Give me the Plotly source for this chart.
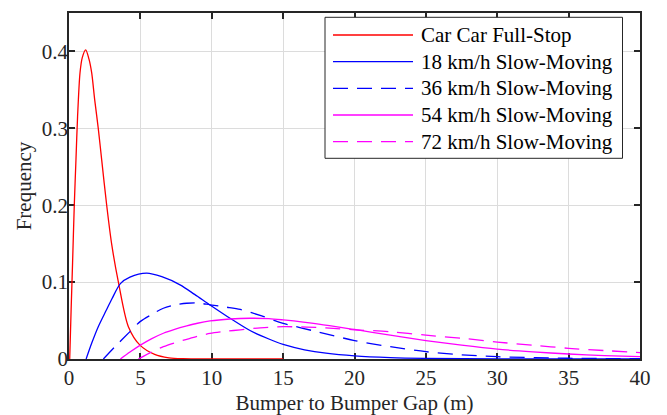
import plotly.graph_objects as go

# ---------------- data ----------------
series_names = ["Car Car Full-Stop", "18 km/h Slow-Moving", "36 km/h Slow-Moving",
                "54 km/h Slow-Moving", "72 km/h Slow-Moving"]

full_stop_x = [0.05, 0.15, 0.25, 0.37, 0.49, 0.6, 0.77, 0.93, 1.17, 1.4, 1.59, 1.8, 2.05,
               2.29, 2.64, 3.0, 3.46, 4.16, 4.97, 6.0, 7.0, 8.0, 10.0, 15.0]
full_stop_y = [0.0, 0.065, 0.125, 0.2, 0.26, 0.315, 0.372, 0.392, 0.402, 0.39, 0.372, 0.337,
               0.3, 0.259, 0.2, 0.148, 0.1, 0.042, 0.018, 0.006, 0.0015, 0.0003, 0.0, 0.0]

kmh18_x = [1.2, 1.6, 2.05, 2.6, 3.0, 3.6, 4.27, 5.44, 6.5, 7.78, 8.8, 9.88, 11.28, 12.68,
           14.0, 15.0, 16.5, 18.0, 20.0, 22.5, 25.0, 30.0, 35.0, 40.0]
kmh18_y = [0.0, 0.021, 0.042, 0.063, 0.078, 0.098, 0.1064, 0.1116, 0.107, 0.0964, 0.084,
           0.0703, 0.053, 0.037, 0.026, 0.019, 0.012, 0.0075, 0.004, 0.0018, 0.0008,
           0.0002, 0.0, 0.0]

kmh36_x = [2.41, 3.22, 4.27, 4.98, 5.8, 6.61, 7.5, 8.25, 9.0, 9.88, 11.0, 12.0, 13.5, 15.0,
           17.5, 20.0, 22.5, 25.0, 27.5, 30.0, 35.0, 40.0]
kmh36_y = [0.0, 0.016, 0.0356, 0.0486, 0.058, 0.066, 0.0705, 0.0725, 0.0728, 0.0705, 0.0675,
           0.0645, 0.056, 0.0464, 0.035, 0.024, 0.016, 0.0095, 0.0055, 0.003, 0.001, 0.0003]

kmh54_x = [3.6, 4.27, 5.0, 5.8, 6.61, 7.4, 8.25, 9.0, 9.88, 11.28, 12.68, 14.0, 15.0, 17.5,
           20.0, 22.5, 25.0, 27.5, 30.0, 32.5, 35.0, 37.5, 40.0]
kmh54_y = [0.0, 0.009, 0.018, 0.0265, 0.0335, 0.0385, 0.043, 0.0465, 0.0495, 0.052, 0.053,
           0.0525, 0.0508, 0.0455, 0.0384, 0.031, 0.024, 0.018, 0.0128, 0.0093, 0.0065,
           0.0045, 0.003]

kmh72_x = [4.86, 5.6, 6.61, 7.4, 8.25, 9.0, 9.88, 11.0, 12.0, 13.4, 15.0, 16.66, 18.0, 20.0,
           22.5, 25.0, 27.5, 30.0, 32.5, 35.0, 37.5, 40.0]
kmh72_y = [0.0, 0.0074, 0.016, 0.021, 0.0256, 0.0295, 0.0333, 0.036, 0.038, 0.0405, 0.042,
           0.0415, 0.0405, 0.038, 0.0355, 0.031, 0.027, 0.022, 0.018, 0.0139, 0.011, 0.0082]

x_ticks = [0, 5, 10, 15, 20, 25, 30, 35, 40]
y_ticks = [0, 0.1, 0.2, 0.3, 0.4]
y_tick_labels = ["0", "0.1", "0.2", "0.3", "0.4"]
x_title = "Bumper to Bumper Gap (m)"
y_title = "Frequency"

# ---------------- styling ----------------
FONT = "Liberation Serif, Times New Roman, serif"
TXT = "#262626"
colors = ["#ff0000", "#0000ff", "#0000ff", "#ff00ff", "#ff00ff"]
dashes = ["solid", "solid", "15px,9px", "solid", "15px,9px"]
LW = 1.3

W, H = 667, 415
L, R, T, B = 69, 640, 13, 359   # plot area in pixels

xs = [full_stop_x, kmh18_x, kmh36_x, kmh54_x, kmh72_x]
ys = [full_stop_y, kmh18_y, kmh36_y, kmh54_y, kmh72_y]

fig = go.Figure()
for name, x, y, c, d in zip(series_names, xs, ys, colors, dashes):
    fig.add_trace(go.Scatter(x=x, y=y, mode="lines", name=name, showlegend=False,
                             line=dict(color=c, width=LW, dash=d, shape="spline",
                                       smoothing=0.8)))

axis_common = dict(showline=True, linecolor=TXT, linewidth=1.8, mirror="ticks",
                   ticks="inside", ticklen=6, tickwidth=1.8, tickcolor=TXT,
                   showgrid=True, gridcolor="#dcdcdc", gridwidth=1, zeroline=False,
                   layer="below traces", automargin=False,
                   tickfont=dict(family=FONT, size=21, color=TXT))

fig.update_xaxes(range=[0, 40], tickvals=x_ticks, ticktext=[str(v) for v in x_ticks],
                 ticklabelstandoff=-1,
                 title=dict(text=x_title, font=dict(family=FONT, size=21, color=TXT),
                            standoff=9),
                 **axis_common)
fig.update_yaxes(range=[0, 0.45], tickvals=y_ticks, ticktext=y_tick_labels,
                 ticklabelstandoff=-5,
                 title=dict(text=y_title, font=dict(family=FONT, size=21, color=TXT),
                            standoff=4),
                 **axis_common)

# ---------------- legend drawn by hand (MATLAB style) ----------------
def px(xp):
    return (xp - L) / (R - L)

def py(yp):
    return (B - yp) / (B - T)

shapes = [dict(type="rect", xref="paper", yref="paper",
               x0=px(325), x1=px(622.5), y0=py(158.3), y1=py(17.3),
               line=dict(color="#262626", width=1), fillcolor="white", layer="above")]
annotations = []
row_y = [35, 61.7, 88.3, 115, 141.7]
for name, c, d, ry in zip(series_names, colors, dashes, row_y):
    shapes.append(dict(type="line", xref="paper", yref="paper",
                       x0=px(333), x1=px(413), y0=py(ry), y1=py(ry),
                       line=dict(color=c, width=LW, dash=d), layer="above"))
    annotations.append(dict(xref="paper", yref="paper", x=px(419), y=py(ry),
                            xanchor="left", yanchor="middle", showarrow=False,
                            text=name, font=dict(family=FONT, size=21, color="black")))

fig.update_layout(width=W, height=H, margin=dict(l=L, r=W - R, t=T, b=H - B),
                  paper_bgcolor="white", plot_bgcolor="white",
                  shapes=shapes, annotations=annotations, showlegend=False)

fig.write_html("out.html")
